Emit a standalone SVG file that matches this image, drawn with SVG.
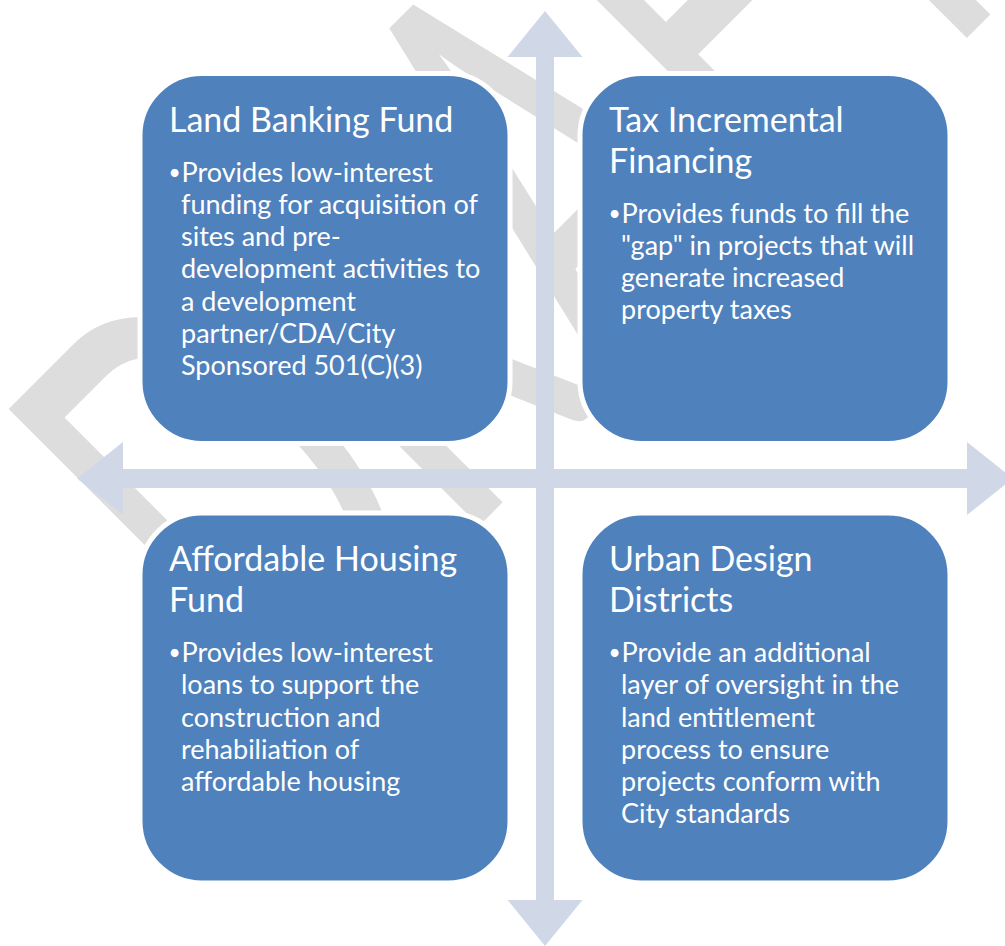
<svg xmlns="http://www.w3.org/2000/svg" width="1005" height="946" viewBox="0 0 1005 946">
<style>
.box{fill:#4F81BD;stroke:#FFFFFF;stroke-width:5}
.title{font-family:Lato,"Liberation Sans",sans-serif;font-size:34px;fill:#FFFFFF}
.body{font-family:Lato,"Liberation Sans",sans-serif;font-size:27px;fill:#FFFFFF}
.bul{font-size:21px}
.arrow{fill:#D0D8E8}
.wm{font-family:Lato,"Liberation Sans",sans-serif;font-size:345px;fill:#DDDDDD}
</style>
<rect width="1005" height="946" fill="#FFFFFF"/>
<g id="watermark">
<text class="wm" transform="translate(280,725) rotate(-45) scale(1,1.68)" x="0 250 470 705 886" y="0">DRAFT</text>
</g>
<g id="connectors">
<path class="arrow" d="M545,11 L582.5,57 L554,57 L554,900 L582.5,900 L545,946 L507.5,900 L536,900 L536,57 L507.5,57 Z"/>
<path class="arrow" d="M77,478.5 L123,442 L123,469 L967,469 L967,442 L1013,478.5 L967,515 L967,488 L123,488 L123,515 Z"/>
</g>
<g id="node-land-banking">
<rect class="box" x="140" y="73.5" width="370" height="370" rx="62" ry="62"/>
<text class="title" x="169" y="131.7">Land Banking Fund</text>
<text class="body" y="181.7"><tspan class="bul" x="168.5" dy="-2">•</tspan><tspan x="181.5" dy="2">Provides low-interest</tspan></text>
<text class="body" x="181" y="213.9">funding for acquisition of</text>
<text class="body" x="181" y="246.1">sites and pre-</text>
<text class="body" x="181" y="278.3">development activities to</text>
<text class="body" x="181" y="310.5">a development</text>
<text class="body" x="181" y="342.7">partner/CDA/City</text>
<text class="body" x="181" y="374.9">Sponsored 501(C)(3)</text>
</g>
<g id="node-tax-incremental">
<rect class="box" x="580" y="73.5" width="370" height="370" rx="62" ry="62"/>
<text class="title" x="609" y="131.7">Tax Incremental</text>
<text class="title" x="609" y="172.7">Financing</text>
<text class="body" y="222.7"><tspan class="bul" x="608.5" dy="-2">•</tspan><tspan x="621.5" dy="2">Provides funds to fill the</tspan></text>
<text class="body" x="621" y="254.9">"gap" in projects that will</text>
<text class="body" x="621" y="287.1">generate increased</text>
<text class="body" x="621" y="319.3">property taxes</text>
</g>
<g id="node-affordable-housing">
<rect class="box" x="140" y="513" width="370" height="370" rx="62" ry="62"/>
<text class="title" x="169" y="571.2">Affordable Housing</text>
<text class="title" x="169" y="612.2">Fund</text>
<text class="body" y="662.2"><tspan class="bul" x="168.5" dy="-2">•</tspan><tspan x="181.5" dy="2">Provides low-interest</tspan></text>
<text class="body" x="181" y="694.4">loans to support the</text>
<text class="body" x="181" y="726.6">construction and</text>
<text class="body" x="181" y="758.8">rehabiliation of</text>
<text class="body" x="181" y="791">affordable housing</text>
</g>
<g id="node-urban-design">
<rect class="box" x="580" y="513" width="370" height="370" rx="62" ry="62"/>
<text class="title" x="609" y="571.2">Urban Design</text>
<text class="title" x="609" y="612.2">Districts</text>
<text class="body" y="662.2"><tspan class="bul" x="608.5" dy="-2">•</tspan><tspan x="621.5" dy="2">Provide an additional</tspan></text>
<text class="body" x="621" y="694.4">layer of oversight in the</text>
<text class="body" x="621" y="726.6">land entitlement</text>
<text class="body" x="621" y="758.8">process to ensure</text>
<text class="body" x="621" y="791">projects conform with</text>
<text class="body" x="621" y="823.2">City standards</text>
</g>
</svg>
